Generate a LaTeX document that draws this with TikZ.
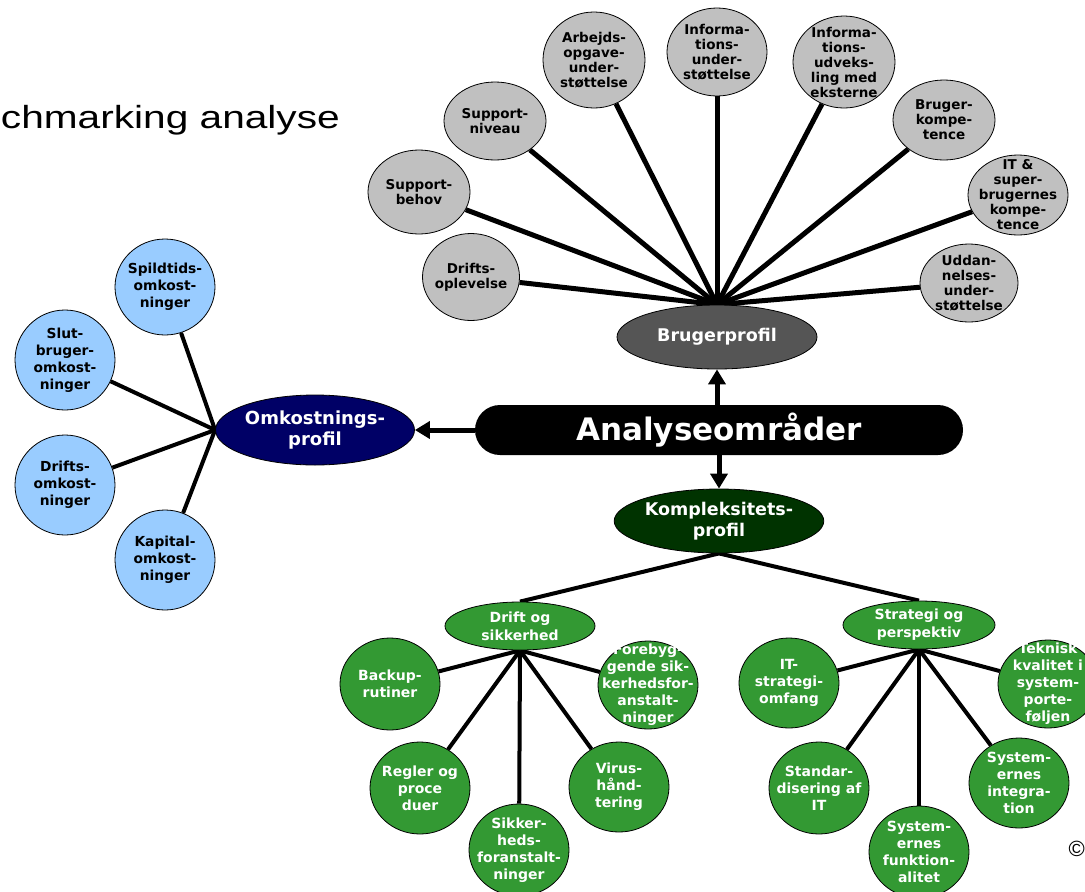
\documentclass[tikz,border=0pt]{standalone}
\usepackage{fontspec}
\usepackage{graphicx}
\setmainfont{DejaVu Sans}
\newfontfamily\arialfont{Liberation Sans}
\usetikzlibrary{shapes.geometric,arrows.meta,backgrounds}
\definecolor{lgrey}{HTML}{C0C0C0}
\definecolor{dgrey}{HTML}{555555}
\definecolor{navyb}{HTML}{000066}
\definecolor{lblue}{HTML}{99CCFF}
\definecolor{dgreen}{HTML}{003300}
\definecolor{mgreen}{HTML}{339933}
\tikzset{
  bub/.style={ellipse, draw=black, line width=0.8, inner sep=0pt},
  greyb/.style={bub, fill=lgrey},
  blueb/.style={bub, fill=lblue},
  greenb/.style={bub, fill=mgreen},
  gtxt/.style={align=center, inner sep=0pt, text=black, font=\bfseries\fontsize{13.5}{15}\selectfont},
  btxt/.style={align=center, inner sep=0pt, text=black, font=\bfseries\fontsize{13.8}{17}\selectfont},
  wtxt/.style={align=center, inner sep=0pt, text=white, font=\bfseries\fontsize{14}{17}\selectfont},
  bigell/.style={ellipse, draw=black, line width=0.8, inner sep=0pt, align=center, text=white},
  spokeA/.style={line width=5},
  spokeB/.style={line width=4},
  arr/.style={line width=5, -{Triangle[length=15,width=17]}},
}
\begin{document}
\begin{tikzpicture}[x=1pt,y=-1pt]
\useasboundingbox (0,0) rectangle (1085,892);

% title fragment
\node[anchor=base east, inner sep=0pt, font=\arialfont\fontsize{32}{36}\selectfont] (title) at (340,128) {\scalebox{1.27}[1]{chmarking analyse}};
\node[anchor=east, inner sep=0pt, font=\arialfont\fontsize{22}{24}\selectfont] (copy) at (1085,849) {©};

% central nodes
\node[rectangle, rounded corners=25, fill=black, minimum width=488, minimum height=50, inner sep=0pt, text=white, font=\bfseries\fontsize{31}{33}\selectfont] (ana) at (719,430) {Analyseområder};
\node[bigell, fill=dgrey, minimum width=200, minimum height=64, font=\bfseries\fontsize{17.5}{20}\selectfont] (bp) at (717,337) {Brugerprofil};
\node[bigell, fill=navyb, minimum width=199, minimum height=70, font=\bfseries\fontsize{18}{20.5}\selectfont] (op) at (315,430) {Omkostnings-\\profil};
\node[bigell, fill=dgreen, minimum width=202, minimum height=64, font=\bfseries\fontsize{17.5}{21}\selectfont] (kp) at (719,521) {Kompleksitets-\\profil};
\node[bigell, fill=mgreen, minimum width=150, minimum height=48, font=\bfseries\fontsize{14}{18}\selectfont] (ds) at (520,626) {Drift og\\sikkerhed};
\node[bigell, fill=mgreen, minimum width=152, minimum height=48, font=\bfseries\fontsize{14}{18}\selectfont] (sp) at (919,625) {Strategi og\\perspektiv};

% grey circles
\node[greyb, minimum width=97, minimum height=87, label={[gtxt]center:{Drifts-\\oplevelse}}] (g1) at (471,277) {};
\node[greyb, minimum width=102, minimum height=84, label={[gtxt]center:{Support-\\behov}}] (g2) at (419,192) {};
\node[greyb, minimum width=102, minimum height=78, label={[gtxt]center:{Support-\\niveau}}] (g3) at (495,121) {};
\node[greyb, minimum width=102, minimum height=96, label={[gtxt]center:{Arbejds-\\opgave-\\under-\\støttelse}}] (g4) at (594,60) {};
\node[greyb, minimum width=100, minimum height=88, label={[gtxt]center:{Informa-\\tions-\\under-\\støttelse}}] (g5) at (717,52) {};
\node[greyb, minimum width=102, minimum height=92, label={[gtxt]center:{Informa-\\tions-\\udveks-\\ling med\\eksterne}}] (g6) at (844,62) {};
\node[greyb, minimum width=102, minimum height=80, label={[gtxt]center:{Bruger-\\kompe-\\tence}}] (g7) at (944,120) {};
\node[greyb, minimum width=100, minimum height=80, label={[gtxt]center:{IT \&\\super-\\brugernes\\kompe-\\tence}}] (g8) at (1018,195) {};
\node[greyb, minimum width=98, minimum height=78, label={[gtxt]center:{Uddan-\\nelses-\\under-\\støttelse}}] (g9) at (969,283) {};

% blue circles
\node[blueb, minimum width=100, minimum height=96, label={[btxt]center:{Spildtids-\\omkost-\\ninger}}] (b1) at (165,287) {};
\node[blueb, minimum width=100, minimum height=100, label={[btxt]center:{Slut-\\bruger-\\omkost-\\ninger}}] (b2) at (65,360) {};
\node[blueb, minimum width=100, minimum height=100, label={[btxt]center:{Drifts-\\omkost-\\ninger}}] (b3) at (65,485) {};
\node[blueb, minimum width=100, minimum height=100, label={[btxt]center:{Kapital-\\omkost-\\ninger}}] (b4) at (165,560) {};

% green circles left
\node[greenb, minimum width=100, minimum height=92, label={[wtxt]center:{Backup-\\rutiner}}] (s1) at (390,684) {};
\node[greenb, minimum width=100, minimum height=88, label={[wtxt]center:{Forebyg-\\gende sik-\\kerhedsfor-\\anstalt-\\ninger}}] (s2) at (648,685) {};
\node[greenb, minimum width=100, minimum height=92, label={[wtxt]center:{Regler og\\proce\\duer}}] (s3) at (420,788) {};
\node[greenb, minimum width=100, minimum height=92, label={[wtxt]center:{Sikker-\\heds-\\foranstalt-\\ninger}}] (s4) at (519,850) {};
\node[greenb, minimum width=100, minimum height=90, label={[wtxt]center:{Virus-\\hånd-\\tering}}] (s5) at (619,787) {};

% green circles right
\node[greenb, minimum width=100, minimum height=90, label={[wtxt]center:{IT-\\strategi-\\omfang}}] (t1) at (789,683) {};
\node[greenb, minimum width=100, minimum height=88, label={[wtxt]center:{Teknisk\\kvalitet i\\system-\\porte-\\føljen}}] (t2) at (1048,684) {};
\node[greenb, minimum width=100, minimum height=92, label={[wtxt]center:{Standar-\\disering af\\IT}}] (t3) at (819,788) {};
\node[greenb, minimum width=100, minimum height=92, label={[wtxt]center:{System-\\ernes\\funktion-\\alitet}}] (t4) at (919,852) {};
\node[greenb, minimum width=100, minimum height=90, label={[wtxt]center:{System-\\ernes\\integra-\\tion}}] (t5) at (1019,783) {};

\begin{scope}[on background layer]
  \foreach \g in {g1,g2,g3,g4,g5,g6,g7,g8,g9} \draw[spokeA] (bp.north) -- (\g);
  \foreach \b in {b1,b2,b3,b4} \draw[spokeB] (op.west) -- (\b);
  \draw[spokeB] (kp.south) -- (ds.north);
  \draw[spokeB] (kp.south) -- (sp.north);
  \foreach \s in {s1,s2,s3,s4,s5} \draw[spokeB] (ds.south) -- (\s);
  \foreach \t in {t1,t2,t3,t4,t5} \draw[spokeB] (sp.south) -- (\t);
\end{scope}

\draw[arr] (ana.north -| bp.south) -- (bp.south);
\draw[arr] (ana.south) -- (kp.north);
\draw[arr] (ana.west) -- (op.east);
\end{tikzpicture}
\end{document}
